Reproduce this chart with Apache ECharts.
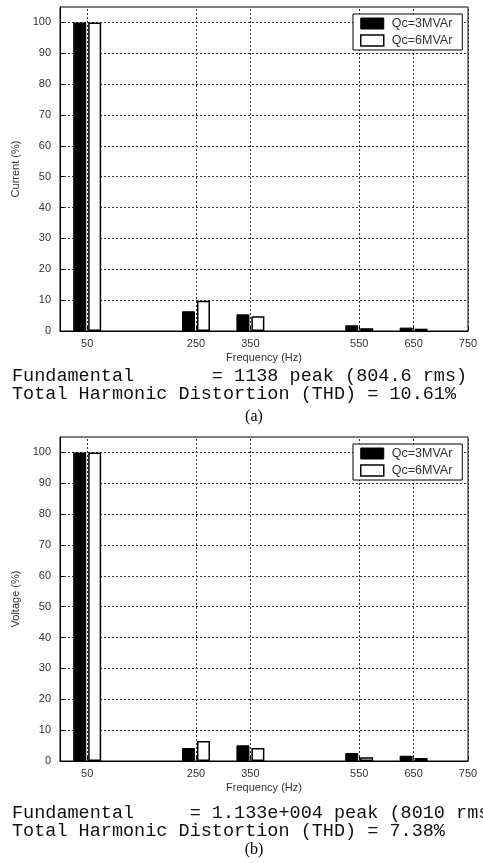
<!DOCTYPE html>
<html>
<head>
<meta charset="utf-8">
<script src="https://cdn.jsdelivr.net/npm/echarts@6/dist/echarts.min.js"></script>
<style>
  html, body { margin: 0; padding: 0; background: #fff; }
  #chart { width: 483px; height: 863px; }
</style>
</head>
<body>
<div id="chart"></div>
<script>
// Harmonic spectrum, frequencies in Hz
const harmonics = [50, 250, 350, 550, 650];
const freqTicks = [50, 250, 350, 550, 650, 750];
const pctTicks = [0, 10, 20, 30, 40, 50, 60, 70, 80, 90, 100];
const seriesNames = ['Qc=3MVAr', 'Qc=6MVAr'];

// (a) current spectrum, % of fundamental
const current3 = [100, 6.4, 5.4, 1.85, 1.1];
const current6 = [100, 9.8, 4.8, 0.9, 0.75];
// (b) voltage spectrum, % of fundamental
const voltage3 = [100, 4.2, 5.1, 2.6, 1.7];
const voltage6 = [100, 6.5, 4.2, 1.2, 1.0];

const panelText = [
  ['Fundamental       = 1138 peak (804.6 rms)', 'Total Harmonic Distortion (THD) = 10.61%', '(a)'],
  ['Fundamental     = 1.133e+004 peak (8010 rms)', 'Total Harmonic Distortion (THD) = 7.38%', '(b)']
];
const yNames = ['Current (%)', 'Voltage (%)'];

const gridTops = [7, 437];
const gridH = 324;
const labelFont = { fontFamily: 'Liberation Sans', fontSize: 11, color: '#333' };
const dash = { color: '#333', type: [2, 2], width: 1 };

const pair = (xs, ys) => xs.map((x, i) => [x, ys[i]]);

const grids = [], xAxes = [], yAxes = [], series = [], legends = [], graphics = [];
const panels = [[current3, current6], [voltage3, voltage6]];

panels.forEach((vals, p) => {
  grids.push({ left: 60, right: 15, top: gridTops[p], height: gridH, show: true,
    borderColor: '#000', borderWidth: 1, backgroundColor: '#fff' });
  xAxes.push({
    type: 'value', gridIndex: p, min: 0, max: 750,
    name: 'Frequency (Hz)', nameLocation: 'middle', nameGap: 21,
    nameTextStyle: labelFont,
    axisLine: { onZero: false, lineStyle: { color: '#000' } },
    axisTick: { show: true, inside: true, length: 4, customValues: freqTicks, lineStyle: { color: '#000' } },
    axisLabel: { ...labelFont, margin: 7, customValues: freqTicks },
    splitLine: { show: false }
  });
  yAxes.push({
    type: 'value', gridIndex: p, min: 0, max: 105, interval: 10,
    name: yNames[p], nameLocation: 'middle', nameGap: 31,
    nameTextStyle: labelFont,
    axisLine: { show: true, lineStyle: { color: '#000' } },
    axisTick: { show: true, inside: true, length: 4, customValues: pctTicks, lineStyle: { color: '#000' } },
    axisLabel: { ...labelFont, margin: 9, customValues: pctTicks },
    splitLine: { show: true, lineStyle: dash }
  });
  // vertical grid lines at the labelled frequencies
  series.push({
    type: 'line', xAxisIndex: p, yAxisIndex: p, data: [], silent: true, z: 1,
    markLine: {
      silent: true, symbol: 'none', label: { show: false }, animation: false,
      lineStyle: dash, data: freqTicks.map(v => ({ xAxis: v }))
    }
  });
  series.push({
    name: seriesNames[0], type: 'bar', xAxisIndex: p, yAxisIndex: p,
    data: pair(harmonics, vals[0]), barWidth: 13, barGap: '15%',
    itemStyle: { color: '#000', borderColor: '#000', borderWidth: 1 },
    z: 2
  });
  series.push({
    name: seriesNames[1], type: 'bar', xAxisIndex: p, yAxisIndex: p,
    data: pair(harmonics, vals[1]), barWidth: 13, barGap: '15%',
    itemStyle: { color: '#fff', borderColor: '#000', borderWidth: 1.5 },
    z: 2
  });
  legends.push({
    left: 353, top: gridTops[p] + 7, orient: 'vertical', z: 10,
    data: [
      { name: seriesNames[0], icon: 'rect', itemStyle: { color: '#000', borderColor: '#000', borderWidth: 1 } },
      { name: seriesNames[1], icon: 'rect', itemStyle: { color: '#fff', borderColor: '#000', borderWidth: 1.5 } }
    ],
    backgroundColor: '#fff', borderColor: '#000', borderWidth: 1,
    padding: [3, 10, 3, 7], itemWidth: 23, itemHeight: 11, itemGap: 4,
    textStyle: { fontFamily: 'Liberation Sans', fontSize: 12.5, color: '#333', padding: [0, 0, 0, 3] },
    selectedMode: false
  });
});

const textRows = [[377, 395, 417], [814, 832, 850]];
panelText.forEach((lines, p) => {
  graphics.push({ type: 'text', left: 12, top: textRows[p][0] - 10,
    style: { text: lines[0], font: '18.5px "Liberation Mono"', fill: '#111' } });
  graphics.push({ type: 'text', left: 12, top: textRows[p][1] - 10,
    style: { text: lines[1], font: '18.5px "Liberation Mono"', fill: '#111' } });
  graphics.push({ type: 'text', x: 254, y: textRows[p][2],
    style: { text: lines[2], font: '16px "Liberation Serif"', fill: '#000', align: 'center', verticalAlign: 'middle' } });
});

const chart = echarts.init(document.getElementById('chart'), null, { renderer: 'canvas' });
chart.setOption({
  animation: false,
  backgroundColor: '#fff',
  grid: grids, xAxis: xAxes, yAxis: yAxes, series: series, legend: legends, graphic: graphics
});
</script>
</body>
</html>
